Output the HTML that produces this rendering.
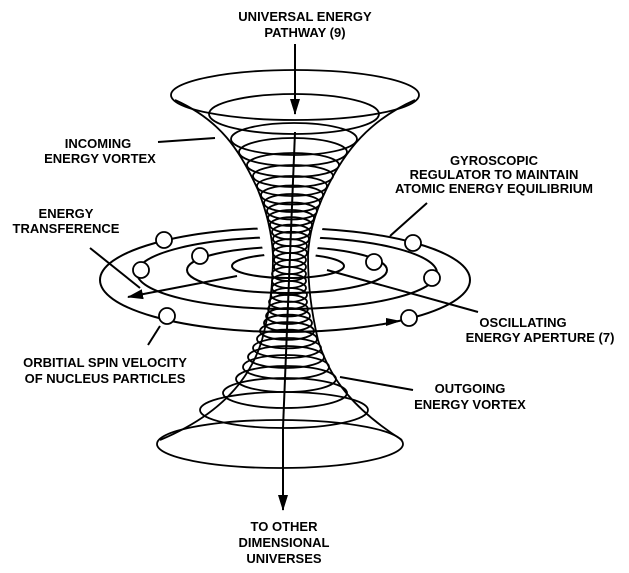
<!DOCTYPE html>
<html><head><style>
html,body{margin:0;padding:0;background:#fff;}
svg{display:block;}
text{font-family:"Liberation Sans",Arial,sans-serif;font-size:13px;font-weight:bold;fill:#000;}
</style></head><body>
<svg width="629" height="573" viewBox="0 0 629 573" xmlns="http://www.w3.org/2000/svg">
<defs>
<marker id="ah2" markerWidth="16" markerHeight="12" refX="15" refY="6" orient="auto" markerUnits="userSpaceOnUse">
<path d="M0,1 L16,6 L0,11 Z" fill="#000"/>
</marker>
</defs>
<g fill="none" stroke="#000" stroke-width="2">
<ellipse cx="285" cy="280" rx="185" ry="52"/>
<ellipse cx="287" cy="273" rx="150" ry="36"/>
<ellipse cx="287" cy="270" rx="100" ry="23"/>
<ellipse cx="288" cy="266" rx="56" ry="12"/>
</g>
<polygon points="256,222 324,222 314,262 266,262" fill="#fff"/>
<g fill="none" stroke="#000" stroke-width="1.8">
<ellipse cx="295" cy="95" rx="124" ry="25"/>
<ellipse cx="294" cy="114" rx="85" ry="20"/>
<ellipse cx="294" cy="139" rx="63" ry="16"/>
<ellipse cx="293" cy="152" rx="54" ry="14"/>
<ellipse cx="293" cy="165" rx="46" ry="12"/>
<ellipse cx="293" cy="176" rx="40" ry="11"/>
<ellipse cx="292" cy="186" rx="35" ry="10"/>
<ellipse cx="292" cy="195" rx="31" ry="9.5"/>
<ellipse cx="292" cy="203" rx="28" ry="9"/>
<ellipse cx="292" cy="211" rx="25" ry="8.5"/>
<ellipse cx="291" cy="218" rx="23" ry="8"/>
<ellipse cx="291" cy="225" rx="21" ry="7.8"/>
<ellipse cx="291" cy="232" rx="19" ry="7.4"/>
<ellipse cx="291" cy="239" rx="18" ry="7.2"/>
<ellipse cx="290" cy="246" rx="17" ry="7"/>
<ellipse cx="290" cy="253" rx="17" ry="7"/>
<ellipse cx="290" cy="260" rx="16" ry="7"/>
<ellipse cx="290" cy="267" rx="16" ry="7"/>
<ellipse cx="289" cy="274" rx="17" ry="7"/>
<ellipse cx="289" cy="281" rx="17" ry="7"/>
<ellipse cx="289" cy="288" rx="17" ry="7"/>
<ellipse cx="289" cy="295" rx="18" ry="7"/>
<ellipse cx="288" cy="302" rx="19" ry="7.2"/>
<ellipse cx="288" cy="309" rx="20" ry="7.5"/>
<ellipse cx="288" cy="316" rx="22" ry="8"/>
<ellipse cx="288" cy="323" rx="24" ry="8.3"/>
<ellipse cx="287" cy="331" rx="27" ry="8.8"/>
<ellipse cx="287" cy="339" rx="30" ry="9.4"/>
<ellipse cx="287" cy="348" rx="34" ry="10"/>
<ellipse cx="286" cy="357" rx="38" ry="11"/>
<ellipse cx="286" cy="367" rx="43" ry="12"/>
<ellipse cx="286" cy="379" rx="50" ry="13"/>
<ellipse cx="285" cy="393" rx="62" ry="15"/>
<ellipse cx="284" cy="410" rx="84" ry="18"/>
<ellipse cx="280" cy="444" rx="123" ry="24"/>
<path d="M175,100 C220,120 240,150 258,190 C268,215 272,235 273,255 C273,285 270,310 262,340 C250,380 220,415 160,440"/>
<path d="M415,100 C370,120 345,150 326,190 C314,215 309,235 308,255 C308,285 311,310 318,340 C330,380 355,410 402,440"/>
</g>
<g fill="#fff" stroke="#000" stroke-width="1.8">
<circle cx="164" cy="240" r="8"/>
<circle cx="141" cy="270" r="8"/>
<circle cx="200" cy="256" r="8"/>
<circle cx="167" cy="316" r="8"/>
<circle cx="413" cy="243" r="8"/>
<circle cx="374" cy="262" r="8"/>
<circle cx="432" cy="278" r="8"/>
<circle cx="409" cy="318" r="8"/>
</g>
<g fill="none" stroke="#000" stroke-width="2">
<line x1="295" y1="44" x2="295" y2="114" marker-end="url(#ah2)"/>
<line x1="295" y1="132" x2="283" y2="428"/>
<line x1="283" y1="428" x2="283" y2="510" marker-end="url(#ah2)"/>
<line x1="158" y1="142" x2="215" y2="138"/>
<line x1="390" y1="236" x2="427" y2="203"/>
<line x1="90" y1="248" x2="140" y2="288"/>
<line x1="237" y1="276" x2="128" y2="297" marker-end="url(#ah2)"/>
<line x1="327" y1="270" x2="478" y2="312"/>
<line x1="148" y1="345" x2="160" y2="326"/>
<line x1="340" y1="377" x2="413" y2="390"/>
</g>
<path d="M386,318 L401,321 L386,326 Z" fill="#000"/>
<g>
<text x="305" y="21" text-anchor="middle">UNIVERSAL ENERGY</text>
<text x="305" y="37" text-anchor="middle">PATHWAY (9)</text>
<text x="98" y="148" text-anchor="middle">INCOMING</text>
<text x="100" y="163" text-anchor="middle">ENERGY VORTEX</text>
<text x="494" y="165" text-anchor="middle">GYROSCOPIC</text>
<text x="494" y="179" text-anchor="middle">REGULATOR TO MAINTAIN</text>
<text x="494" y="193" text-anchor="middle">ATOMIC ENERGY EQUILIBRIUM</text>
<text x="66" y="218" text-anchor="middle">ENERGY</text>
<text x="66" y="233" text-anchor="middle">TRANSFERENCE</text>
<text x="523" y="327" text-anchor="middle">OSCILLATING</text>
<text x="540" y="342" text-anchor="middle">ENERGY APERTURE (7)</text>
<text x="105" y="367" text-anchor="middle">ORBITIAL SPIN VELOCITY</text>
<text x="105" y="383" text-anchor="middle">OF NUCLEUS PARTICLES</text>
<text x="470" y="393" text-anchor="middle">OUTGOING</text>
<text x="470" y="409" text-anchor="middle">ENERGY VORTEX</text>
<text x="284" y="531" text-anchor="middle">TO OTHER</text>
<text x="284" y="547" text-anchor="middle">DIMENSIONAL</text>
<text x="284" y="563" text-anchor="middle">UNIVERSES</text>
</g>
</svg>
</body></html>
